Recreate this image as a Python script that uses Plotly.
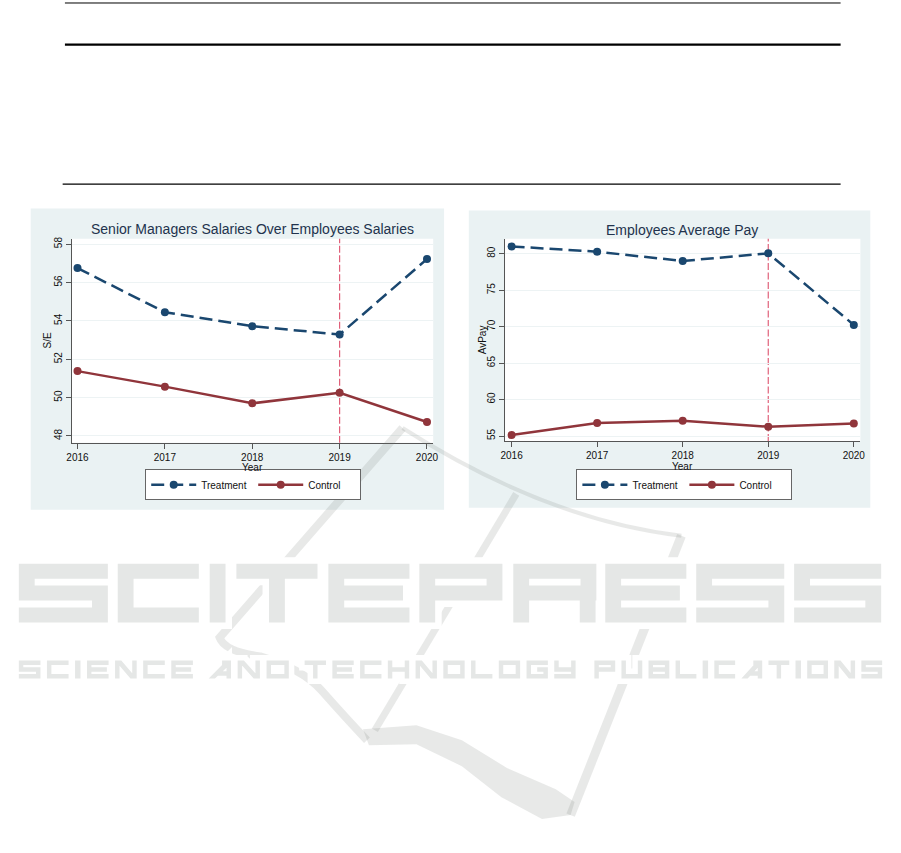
import plotly.graph_objects as go

# ---------------- data ----------------
years = [2016, 2017, 2018, 2019, 2020]
se_treatment = [56.75, 54.45, 53.72, 53.29, 57.22]
se_control = [51.38, 50.57, 49.70, 50.25, 48.73]
avpay_treatment = [81.0, 80.27, 79.0, 80.05, 70.23]
avpay_control = [55.14, 56.77, 57.09, 56.27, 56.73]
se_ticks = [48, 50, 52, 54, 56, 58]
avpay_ticks = [55, 60, 65, 70, 75, 80]
policy_year = 2019

# ---------------- style ----------------
W, H = 901, 853
FONT = "Liberation Sans, Arial, sans-serif"
NAVY = "#1a476f"
MAROON = "#90353b"
VLINE = "#e0607a"
PANEL = "#eaf2f3"
GRID = "#edf3f4"
AXIS = "#555555"
TITLE_C = "#22334d"
WM = "#e5e7e6"


def px(x):
    return x / W


def py(y):
    return 1 - y / H


fig = go.Figure()

for xs, ys_t, ys_c, xa, ya, lg in [
    (years, se_treatment, se_control, "x", "y", "legend"),
    (years, avpay_treatment, avpay_control, "x2", "y2", "legend2"),
]:
    fig.add_trace(go.Scatter(
        x=xs, y=ys_t, mode="lines+markers", name="Treatment",
        line=dict(color=NAVY, width=2.5, dash="13px,6px"),
        marker=dict(size=8, color=NAVY), xaxis=xa, yaxis=ya, legend=lg))
    fig.add_trace(go.Scatter(
        x=xs, y=ys_c, mode="lines+markers", name="Control",
        line=dict(color=MAROON, width=2.5),
        marker=dict(size=8, color=MAROON), xaxis=xa, yaxis=ya, legend=lg))

axis_common = dict(
    ticks="outside", ticklen=5, tickcolor=AXIS, showline=True, linecolor=AXIS,
    linewidth=1, zeroline=False, tickfont=dict(family=FONT, size=10, color="#111"),
    fixedrange=True,
)

L_plot = (67.3, 237.3, 433, 441.7)
R_plot = (505.7, 237.3, 865, 440)

fig.update_layout(
    width=W, height=H, margin=dict(l=0, r=0, t=0, b=0),
    paper_bgcolor="white", plot_bgcolor="rgba(0,0,0,0)",
    xaxis=dict(domain=[px(L_plot[0]), px(L_plot[2])], range=[2015.932, 2020.071],
               tickvals=years, tickformat="d", showgrid=False, anchor="y", **axis_common),
    yaxis=dict(domain=[py(L_plot[3]), py(L_plot[1])], range=[47.65, 58.28],
               tickvals=se_ticks, tickangle=-90, showgrid=True, gridcolor=GRID,
               anchor="x", **axis_common),
    xaxis2=dict(domain=[px(R_plot[0]), px(R_plot[2])], range=[2015.924, 2020.077],
                tickvals=years, tickformat="d", showgrid=False, anchor="y2", **axis_common),
    yaxis2=dict(domain=[py(R_plot[3]), py(R_plot[1])], range=[54.32, 82.05],
                tickvals=avpay_ticks, tickangle=-90, showgrid=True, gridcolor=GRID,
                anchor="x2", **axis_common),
    showlegend=True,
)

leg_common = dict(orientation="h", xanchor="center", yanchor="middle",
                  bordercolor="#666", borderwidth=1, bgcolor="white",
                  font=dict(family=FONT, size=10, color="#111"),
                  itemwidth=45, entrywidth=47, entrywidthmode="pixels",
                  itemclick=False, itemdoubleclick=False)
fig.update_layout(
    legend=dict(x=px(251), y=py(484), **leg_common),
    legend2=dict(x=px(687), y=py(484), **leg_common),
)

shapes = []
# panels
shapes.append(dict(type="rect", xref="paper", yref="paper", x0=px(26), x1=px(444),
                   y0=py(509), y1=py(207), fillcolor=PANEL, line=dict(width=0), layer="below"))
shapes.append(dict(type="rect", xref="paper", yref="paper", x0=px(469), x1=px(875),
                   y0=py(507), y1=py(209), fillcolor=PANEL, line=dict(width=0), layer="below"))
for (x0, y0, x1, y1) in (L_plot, R_plot):
    shapes.append(dict(type="rect", xref="paper", yref="paper", x0=px(x0), x1=px(x1),
                       y0=py(y1), y1=py(y0), fillcolor="white", line=dict(width=0), layer="below"))
# policy lines
for xr, yr in (("x", "y domain"), ("x2", "y2 domain")):
    shapes.append(dict(type="line", xref=xr, yref=yr, x0=policy_year, x1=policy_year,
                       y0=0, y1=1, line=dict(color=VLINE, width=1.2, dash="7px,2.5px"),
                       layer="below"))
# page rules
for (x0, x1, y, w) in ((60.6, 845, 1.0, 1.0), (60.6, 845, 42.8, 2.3), (58.3, 845, 182.5, 1.3)):
    shapes.append(dict(type="line", xref="paper", yref="paper", x0=px(x0), x1=px(x1),
                       y0=py(y), y1=py(y), line=dict(color="black", width=w)))

# ---------------- watermark ----------------
def poly_path(pts):
    a = 0
    for i in range(len(pts)):
        x1, y1 = pts[i]
        x2, y2 = pts[(i + 1) % len(pts)]
        a += x1 * y2 - x2 * y1
    if a < 0:
        pts = pts[::-1]
    s = "M%.5f,%.5f" % (px(pts[0][0]), py(pts[0][1]))
    for (x, y) in pts[1:]:
        s += " L%.5f,%.5f" % (px(x), py(y))
    return s + " Z"


def R(x0, y0, x1, y1):
    return [(x0, y0), (x1, y0), (x1, y1), (x0, y1)]


def glyph(ch, x0, x1, y0, y1, t, tv=None):
    tv = tv or t
    w = x1 - x0
    h = y1 - y0
    xc = (x0 + x1) / 2
    ym0 = y0 + (h - t) / 2
    ym1 = ym0 + t
    top = R(x0, y0, x1, y0 + t)
    bot = R(x0, y1 - t, x1, y1)
    mid = R(x0, ym0, x1, ym1)
    left = R(x0, y0, x0 + tv, y1)
    right = R(x1 - tv, y0, x1, y1)
    g = []
    if ch == "S":
        g = [top, R(x0, y0, x0 + tv, ym1), mid, R(x1 - tv, ym0, x1, y1), bot]
    elif ch == "C":
        g = [top, left, bot]
    elif ch == "I":
        g = [R(x0, y0, x1, y1)]
    elif ch == "T":
        g = [top, R(xc - tv / 2, y0, xc + tv / 2, y1)]
    elif ch == "E":
        g = [left, top, R(x0, ym0, x1 - 0.08 * w, ym1), bot]
    elif ch == "P":
        g = [left, top, R(x1 - tv, y0, x1, ym1), mid]
    elif ch == "R":
        g = [left, top, R(x1 - tv, y0, x1, ym1), mid, R(x1 - tv * 1.05, ym0, x1 - 0.05 * tv, y1)]
    elif ch == "N":
        g = [left, right, [(x0, y0), (x0 + 1.4 * tv, y0), (x1, y1), (x1 - 1.4 * tv, y1)]]
    elif ch == "A":
        g = [right, [(x0, y1), (x0 + 1.4 * tv, y1), (x1 - tv, y0 + 1.6 * t), (x1 - tv, y0)],
             R(x1 - 2 * tv, y0, x1, y0 + t), R(x0 + 0.35 * w, y0 + 0.6 * h, x1, y0 + 0.6 * h + t)]
    elif ch == "D":
        g = [left, top, bot, right]
    elif ch == "H":
        g = [left, right, mid]
    elif ch == "O":
        g = [top, bot, left, right]
    elif ch == "L":
        g = [left, bot]
    elif ch == "G":
        g = [top, left, bot, R(x1 - tv, ym0, x1, y1), R(x0 + 0.5 * w, ym0, x1, ym1)]
    elif ch == "Y":
        g = [R(x0, y0, x0 + tv, ym1), R(x1 - tv, y0, x1, y1), R(x0, ym0, x1, ym1), bot]
    elif ch == "U":
        g = [left, right, bot]
    elif ch == "B":
        g = [left, top, mid, bot, right]
    return g


wm_big_letters = ["S", "C", "I", "T", "E", "P", "R", "E", "S", "S"]
big_pos = [(14, 104), (114, 196), (207, 223), (234, 316), (327, 409), (419, 503),
           (514, 598), (607, 689), (699, 788), (798, 886)]
big_paths = []
for ch, (a, b) in zip(wm_big_letters, big_pos):
    for pg in glyph(ch, a, b, 563, 622, 15, 16):
        big_paths.append(poly_path(pg))

wm_words = ["SCIENCE", "AND", "TECHNOLOGY", "PUBLICATIONS"]
word_pos = [(14, 190), (206, 287), (303, 577), (596, 887)]
ts = 4.5
small_paths = []
for word, (xs_, xe_) in zip(wm_words, word_pos):
    n = len(word)
    nI = word.count("I")
    u = (xe_ - xs_ - nI * (ts + 1)) / ((n - nI) + 0.3 * (n - 1))
    x = xs_
    for ch in word:
        wch = ts + 1 if ch == "I" else u
        for pg in glyph(ch, x, x + wch, 660, 678, ts, ts):
            small_paths.append(poly_path(pg))
        x += wch + 0.3 * u


def cpath(cmds):
    out = []
    for c in cmds:
        if isinstance(c, str):
            out.append(c)
        else:
            out.append("%.5f,%.5f" % (px(c[0]), py(c[1])))
    return " ".join(out)


band_col = "rgba(110,120,115,0.16)"
band1 = cpath(["M", (402, 427), "L", (217, 637), "Q", (222, 651), (258, 656),
               "Q", (300, 668), (320, 690), "Q", (345, 718), (366, 740)])
band2 = cpath(["M", (517, 493), "L", (374, 730)])
band3 = cpath(["M", (684, 535), "L", (572, 815)])
arc = cpath(["M", (402, 427), "Q", (547, 519), (684, 535)])
crescent = poly_path([(362, 729), (416, 725), (462, 740), (508, 768), (557, 789), (576, 802),
                      (572, 815), (543, 819), (502, 797), (462, 766), (416, 744), (368, 745)])

for pth, wdt in ((band1, 8), (band2, 7), (band3, 9), (arc, 4)):
    shapes.append(dict(type="path", xref="paper", yref="paper", path=pth,
                       line=dict(color=band_col, width=wdt), layer="above"))
shapes.append(dict(type="path", xref="paper", yref="paper", path=crescent,
                   fillcolor=band_col, line=dict(width=0), layer="above"))
shapes.append(dict(type="path", xref="paper", yref="paper", path=" ".join(big_paths),
                   fillcolor="white", fillrule="nonzero", line=dict(color="white", width=13),
                   layer="above"))
shapes.append(dict(type="path", xref="paper", yref="paper", path=" ".join(small_paths),
                   fillcolor="white", fillrule="nonzero", line=dict(color="white", width=11),
                   layer="above"))
shapes.append(dict(type="path", xref="paper", yref="paper", path=" ".join(big_paths),
                   fillcolor=WM, fillrule="nonzero", line=dict(width=0), layer="above"))
shapes.append(dict(type="path", xref="paper", yref="paper", path=" ".join(small_paths),
                   fillcolor=WM, fillrule="nonzero", line=dict(width=0), layer="above"))

fig.update_layout(shapes=shapes)

annotations = [
    dict(text="Senior Managers Salaries Over Employees Salaries", x=px(250), y=py(227.5),
         font=dict(family=FONT, size=14, color=TITLE_C)),
    dict(text="Employees Average Pay", x=px(685), y=py(229),
         font=dict(family=FONT, size=14, color=TITLE_C)),
    dict(text="Year", x=px(250), y=py(467), font=dict(family=FONT, size=10, color="#111")),
    dict(text="Year", x=px(685), y=py(466), font=dict(family=FONT, size=10, color="#111")),
    dict(text="S/E", x=px(43.3), y=py(339.5), textangle=-90,
         font=dict(family=FONT, size=10, color="#111")),
    dict(text="AvPay", x=px(483), y=py(338.5), textangle=-90,
         font=dict(family=FONT, size=10, color="#111")),
]
for a in annotations:
    a.update(xref="paper", yref="paper", showarrow=False, xanchor="center", yanchor="middle")
fig.update_layout(annotations=annotations)

fig.write_html(
    "out.html",
    config={"displayModeBar": False},
    post_script="document.body.style.margin='0';document.body.style.overflow='hidden';",
)
